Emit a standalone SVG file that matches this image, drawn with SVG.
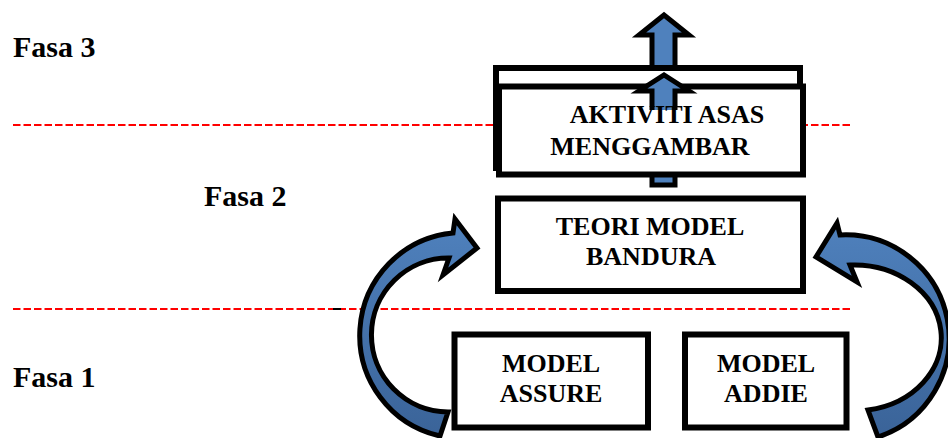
<svg xmlns="http://www.w3.org/2000/svg" width="948" height="438" viewBox="0 0 948 438">
<style>
.lbl{font-family:"Liberation Serif","Times New Roman",serif;font-weight:bold;font-size:30px;fill:#000}
.txt{font-family:"Liberation Serif","Times New Roman",serif;font-weight:bold;font-size:26px;fill:#000;text-anchor:middle}
.box{fill:#fff;stroke:#000;stroke-width:6}
.dash{stroke:#ff0000;stroke-width:2;stroke-dasharray:7.5 3;fill:none}
.arr{stroke:#000;stroke-width:5;stroke-linejoin:miter}
</style>
<defs>
<linearGradient id="gl" gradientUnits="userSpaceOnUse" x1="0" y1="220" x2="0" y2="438">
<stop offset="0" stop-color="#4f81bd"/><stop offset="1" stop-color="#3a6398"/>
</linearGradient>
</defs>
<g id="separators">
<line class="dash" x1="13" y1="125" x2="852" y2="125"/>
<line class="dash" x1="13" y1="309" x2="852" y2="309"/>
<line x1="333" y1="309" x2="341" y2="309" stroke="#000" stroke-width="2"/>
</g>
<g id="labels">
<text class="lbl" x="13" y="57">Fasa 3</text>
<text class="lbl" x="204" y="206">Fasa 2</text>
<text class="lbl" x="13" y="387">Fasa 1</text>
</g>
<g id="connectors">
<path class="arr" fill="#4f81bd" d="M664,15 L689,35 L675,35 L675,72 L652,72 L652,35 L639,35 Z"/>
</g>
<g id="node-back">
<rect class="box" x="496" y="68" width="304" height="100"/>
</g>
<g id="connector-shaft">
<path class="arr" fill="#4f81bd" d="M652,170 V185 H675 V170"/>
</g>
<g id="node-aktiviti">
<rect class="box" x="499" y="86.5" width="304" height="88"/>
<path fill="#4f81bd" d="M652,110 L652,91 L639,91 L664,75 L689,91 L675,91 L675,110 Z"/>
<path class="arr" fill="none" d="M652,110 L652,91 L639,91 L664,75 L689,91 L675,91 L675,110"/>
<text class="txt" x="667" y="123">AKTIVITI ASAS</text>
<text class="txt" x="650" y="155">MENGGAMBAR</text>
</g>
<g id="node-teori">
<rect class="box" x="498" y="198.5" width="305" height="92.5"/>
<text class="txt" x="650" y="235">TEORI MODEL</text>
<text class="txt" x="651" y="265">BANDURA</text>
</g>
<g id="node-assure">
<rect class="box" x="454.5" y="334.5" width="193.5" height="93"/>
<text class="txt" x="551" y="372">MODEL</text>
<text class="txt" x="551" y="402">ASSURE</text>
</g>
<g id="node-addie">
<rect class="box" x="685" y="334.5" width="161.5" height="93"/>
<text class="txt" x="766" y="372">MODEL</text>
<text class="txt" x="766" y="402">ADDIE</text>
</g>
<g id="curved-connectors">
<path class="arr" fill="url(#gl)" d="M440,436 A103,103 0 0 1 453,233 L455,219 L477,248 L443,275 L449,258 A77,77 0 1 0 448,412 Z"/>
<path class="arr" fill="url(#gl)" d="M878,437 A103.7,103.7 0 0 0 840,235 L837,223 L816,257 L857,282 L850,265 A87,73 0 0 1 868,410 Z"/>
</g>
</svg>
